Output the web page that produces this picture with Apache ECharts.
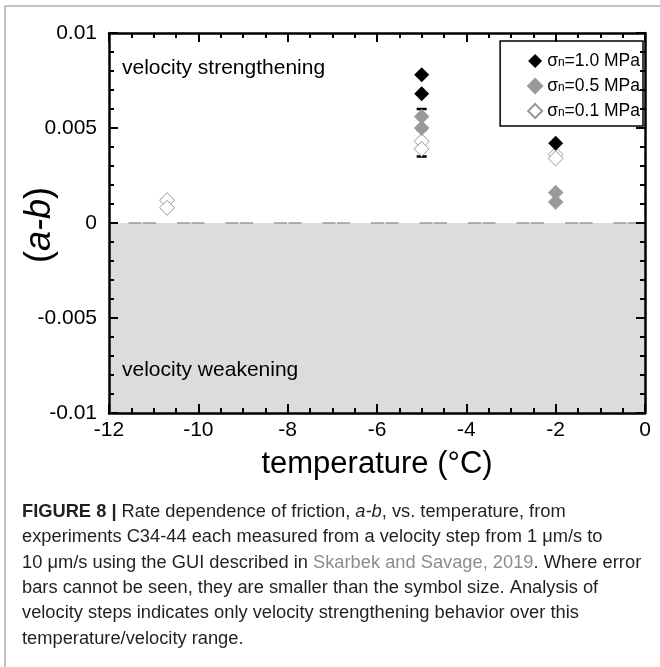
<!DOCTYPE html>
<html><head><meta charset="utf-8">
<script src="https://cdn.jsdelivr.net/npm/echarts@6/dist/echarts.min.js"></script>
<style>html,body{margin:0;padding:0;background:#fff}#c{width:660px;height:667px}</style>
</head><body><div id="c"></div>
<script>
// ---- data ----
const xMin = -12, xMax = 0, xStep = 2;
const yMin = -0.01, yMax = 0.01, yStep = 0.005;
const seriesNames = ['σn=1.0 MPa', 'σn=0.5 MPa', 'σn=0.1 MPa'];
const sigma10 = [[-5, 0.0078], [-5, 0.0068], [-2, 0.0042]];
const sigma05 = [[-5, 0.0056], [-5, 0.0050], [-2, 0.0016], [-2, 0.0011]];
const sigma01 = [[-10.7, 0.0012], [-10.7, 0.0008], [-5, 0.0043], [-5, 0.0039], [-2, 0.0036], [-2, 0.0034]];
const errorBars = [[-5, 0.0049, 0.0060], [-5, 0.0035, 0.0043]];
const regionLabels = ['velocity strengthening', 'velocity weakening'];
const xTitle = 'temperature (°C)';
const captionLines = [
  '{b|FIGURE 8 | }{n|Rate dependence of friction, }{i|a-b}{n|, vs. temperature, from}',
  '{n|experiments C34-44 each measured from a velocity step from 1 μm/s to}',
  '{n|10 μm/s using the GUI described in }{l|Skarbek and Savage, 2019}{n|. Where error}',
  '{n|bars cannot be seen, they are smaller than the symbol size. Analysis of}',
  '{n|velocity steps indicates only velocity strengthening behavior over this}',
  '{n|temperature/velocity range.}'
];

const FF = '"Liberation Sans", Arial, Helvetica, sans-serif';
const chart = echarts.init(document.getElementById('c'));

function fmtY(v) { const r = Math.round(v * 1000) / 1000; return r === 0 ? '0' : String(r); }

function axisCommon(showLabel, isX) {
  return {
    z: 10,
    axisLine: { show: true, onZero: false, lineStyle: { color: '#000', width: 2.5 } },
    axisTick: { show: true, inside: true, length: 9, lineStyle: { color: '#000', width: 2 } },
    minorTick: { show: true, splitNumber: isX ? 4 : 5, length: 5, lineStyle: { color: '#000', width: 2 } },
    splitLine: { show: false },
    axisLabel: showLabel ? {
      show: true, color: '#000', fontFamily: FF, fontSize: 21, margin: isX ? 7 : 12,
      formatter: isX ? (v => String(v)) : fmtY
    } : { show: false }
  };
}

const CF = 18.3;
const captionGraphics = captionLines.map((t, i) => ({
  type: 'text', left: 22, top: 503 + i * 25.3,
  style: {
    text: t, fill: '#231f20', fontFamily: FF, fontSize: CF,
    rich: {
      b: { fontWeight: 'bold', fontSize: CF, fontFamily: FF, fill: '#231f20' },
      n: { fontSize: CF, fontFamily: FF, fill: '#231f20' },
      i: { fontStyle: 'italic', fontSize: CF, fontFamily: FF, fill: '#231f20' },
      l: { fontSize: CF, fontFamily: FF, fill: '#8c8c8c' }
    }
  }
}));

const LF = 17.5;
const option = {
  animation: false,
  backgroundColor: '#fff',
  grid: { left: 109, right: 15, top: 33, bottom: 254 },
  xAxis: [
    Object.assign({ type: 'value', min: xMin, max: xMax, interval: xStep, position: 'bottom',
      name: xTitle, nameLocation: 'middle', nameGap: 36,
      nameTextStyle: { fontFamily: FF, fontSize: 31, color: '#000' } }, axisCommon(true, true)),
    Object.assign({ type: 'value', min: xMin, max: xMax, interval: xStep, position: 'top' }, axisCommon(false, true))
  ],
  yAxis: [
    Object.assign({ type: 'value', min: yMin, max: yMax, interval: yStep, position: 'left' }, axisCommon(true, false)),
    Object.assign({ type: 'value', min: yMin, max: yMax, interval: yStep, position: 'right' }, axisCommon(false, false))
  ],
  legend: {
    orient: 'vertical', right: 17, top: 41,
    data: seriesNames,
    backgroundColor: '#fff', borderColor: '#000', borderWidth: 1.5,
    padding: [11, 3, 6, 27], itemGap: 7, itemWidth: 14, itemHeight: 14,
    formatter: name => '{s|σ}{sub|n}{t|' + name.slice(2) + '}',
    textStyle: {
      fontFamily: FF, fontSize: LF, color: '#000', lineHeight: 15,
      rich: {
        s: { fontFamily: FF, fontSize: LF, color: '#000', lineHeight: 15 },
        sub: { fontFamily: FF, fontSize: 12, color: '#000', lineHeight: 11, verticalAlign: 'bottom' },
        t: { fontFamily: FF, fontSize: LF, color: '#000', lineHeight: 15 }
      }
    }
  },
  graphic: [
    { type: 'line', shape: { x1: 5, y1: 6, x2: 660, y2: 6 }, style: { stroke: '#888', lineWidth: 1 } },
    { type: 'line', shape: { x1: 5, y1: 6, x2: 5, y2: 667 }, style: { stroke: '#888', lineWidth: 1 } },
    { type: 'text', left: 122, top: 58, z: 20, style: { text: regionLabels[0], fontFamily: FF, fontSize: 21, fill: '#000' } },
    { type: 'text', left: 122, top: 360, z: 20, style: { text: regionLabels[1], fontFamily: FF, fontSize: 21, fill: '#000' } },
    { type: 'text', x: 40, y: 225, rotation: Math.PI / 2, z: 20,
      style: { text: '{p|(}{i|a-b}{p|)}', align: 'center', verticalAlign: 'middle',
        rich: {
          p: { fontFamily: FF, fontSize: 36, fill: '#000' },
          i: { fontFamily: FF, fontSize: 36, fontStyle: 'italic', fill: '#000' }
        } } }
  ].concat(captionGraphics),
  series: [
    {
      type: 'custom', name: 'err', z: 1,
      data: errorBars,
      encode: { x: 0, y: [1, 2] },
      renderItem: function (params, api) {
        const x = api.value(0), lo = api.value(1), hi = api.value(2);
        const a = api.coord([x, lo]), b = api.coord([x, hi]);
        const w = 5;
        const st = { stroke: '#000', lineWidth: 2.5 };
        return { type: 'group', children: [
          { type: 'line', shape: { x1: a[0], y1: a[1], x2: b[0], y2: b[1] }, style: st },
          { type: 'line', shape: { x1: a[0] - w, y1: a[1], x2: a[0] + w, y2: a[1] }, style: st },
          { type: 'line', shape: { x1: b[0] - w, y1: b[1], x2: b[0] + w, y2: b[1] }, style: st }
        ] };
      },
      markArea: {
        silent: true, z: 0,
        itemStyle: { color: '#dcdcdc' },
        data: [[{ xAxis: xMin, yAxis: yMin }, { xAxis: xMax, yAxis: 0 }]]
      },
      markLine: {
        silent: true, symbol: 'none', label: { show: false },
        lineStyle: { color: '#999', width: 1.5, type: [13, 1.5, 13, 21], dashOffset: 29 },
        data: [{ yAxis: 0 }]
      }
    },
    { type: 'scatter', name: seriesNames[2], data: sigma01, symbol: 'diamond', symbolSize: 15, z: 3,
      itemStyle: { color: '#fff', borderColor: '#999', borderWidth: 1, opacity: 1 } },
    { type: 'scatter', name: seriesNames[1], data: sigma05, symbol: 'diamond', symbolSize: 15, z: 4,
      itemStyle: { color: '#999', borderColor: '#999', borderWidth: 0.5, opacity: 1 } },
    { type: 'scatter', name: seriesNames[0], data: sigma10, symbol: 'diamond', symbolSize: 15, z: 5,
      itemStyle: { color: '#000', opacity: 1 } }
  ]
};
chart.setOption(option);
</script>
</body></html>
